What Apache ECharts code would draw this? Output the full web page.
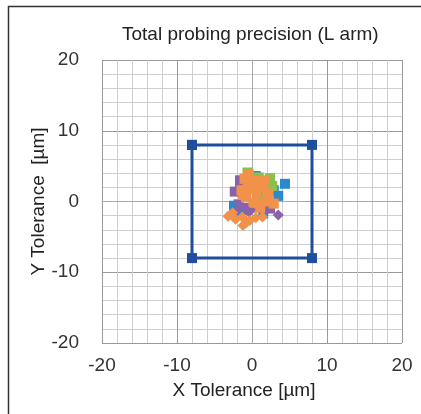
<!DOCTYPE html>
<html>
<head>
<meta charset="utf-8">
<script src="https://cdn.jsdelivr.net/npm/echarts@6/dist/echarts.min.js"></script>
<style>
  html, body { margin: 0; padding: 0; background: #fff; }
  #chart { width: 421px; height: 414px; }
</style>
</head>
<body>
<div id="chart"></div>
<script>
// tolerance box corners (um)
const boxPoints = [[-8, 8], [8, 8], [8, -8], [-8, -8], [-8, 8]];

// measured probe points, grouped as drawn in the picture
const blueSquares = [[4.4, 2.5], [3.5, 0.8], [2.9, 1.6], [1.5, -1.7], [-2.4, -0.6], [0.5, 3.6], [-1.0, -1.2], [0.8, 0.6], [-1.6, 2.4]];
const greenSquares = [[-0.6, 4.1], [2.4, 3.3], [2.7, 2.2], [0.9, 3.4], [1.8, 2.8], [-0.2, -0.9], [1.2, 0.4]];
const purpleSquares = [[-2.3, 1.4], [-1.6, 3.0], [-0.6, -0.9], [0.5, -0.7], [-1.8, -0.4], [2.4, -1.0], [0.0, 2.7]];
const orangeSquares = [[-0.4, 3.8], [-1.4, 1.6], [-0.6, 2.6], [0.6, 1.2], [1.5, 1.9], [0.2, -0.2], [2.0, 0.0], [1.1, -0.9],
  [2.9, -0.3], [-0.8, 0.6], [1.6, 3.0], [0.5, 2.2], [-1.2, 1.0], [2.2, 1.1], [0.3, 3.0], [-1.0, 3.2], [1.0, -0.3], [-0.3, 1.8]];
const blueDiamonds = [[-2.2, -1.0], [-1.5, -1.7]];
const purpleDiamonds = [[3.5, -1.9], [-2.0, -1.2], [-0.4, -1.5]];
const orangeDiamonds = [[-3.2, -2.1], [-2.2, -2.5], [-1.3, -2.2], [-1.2, -3.4], [-0.3, -2.7], [0.5, -2.3], [1.4, -2.2], [-2.6, -1.6], [-0.8, -3.0]];

const axisMin = -20, axisMax = 20, step = 2;
const font = 'Liberation Sans, Arial, sans-serif';
const tickText = v => (v % 10 === 0 ? String(v) : '');

function axis(name, gap, labelMargin, namePad) {
    return {
        type: 'value',
        min: axisMin,
        max: axisMax,
        interval: step,
        name: name,
        nameLocation: 'middle',
        nameGap: gap,
        nameMoveOverlap: false,
        nameTextStyle: { color: '#222', fontSize: 19, fontFamily: font, padding: namePad },
        axisLine: { show: true, lineStyle: { color: '#aaa', width: 1 } },
        axisTick: { show: false },
        axisLabel: { color: '#333', fontSize: 19, fontFamily: font, margin: labelMargin, formatter: tickText },
        splitLine: {
            show: true,
            lineStyle: { color: ['#999', '#cfcfcf', '#cfcfcf', '#cfcfcf', '#cfcfcf'], width: 1 }
        }
    };
}

function scatter(data, color, symbol) {
    return {
        type: 'scatter',
        data: data,
        symbol: symbol,
        symbolSize: symbol === 'diamond' ? 11 : 10,
        itemStyle: { color: color, opacity: 1 },
        z: 3
    };
}

const chart = echarts.init(document.getElementById('chart'));
chart.setOption({
    animation: false,
    title: {
        text: 'Total probing precision (L arm)',
        left: 117,
        top: 20,
        textStyle: { color: '#222', fontSize: 19, fontWeight: 'normal', fontFamily: font }
    },
    grid: { left: 102, top: 60, width: 300, height: 283, outerBoundsMode: 'none', containLabel: false },
    xAxis: axis('X Tolerance [µm]', 38, 13, [0, 16, 0, 0]),
    yAxis: axis('Y Tolerance  [µm]', 54, 23, 0),
    graphic: [{
        type: 'polyline',
        shape: { points: [[8.5, 414], [8.5, 6.5], [421, 6.5]] },
        style: { fill: null, stroke: '#333', lineWidth: 1.5 },
        z: 10
    }],
    series: [
        {
            type: 'line',
            data: boxPoints,
            symbol: 'rect',
            symbolSize: 10,
            showSymbol: true,
            lineStyle: { color: '#1f4e9e', width: 3 },
            itemStyle: { color: '#1f4e9e' },
            z: 2
        },
        scatter(blueSquares, '#2a8acb', 'rect'),
        scatter(greenSquares, '#8dbf4f', 'rect'),
        scatter(purpleSquares, '#8a62ab', 'rect'),
        scatter(orangeSquares, '#f2914a', 'rect'),
        scatter(blueDiamonds, '#2a8acb', 'diamond'),
        scatter(purpleDiamonds, '#8a62ab', 'diamond'),
        scatter(orangeDiamonds, '#f2914a', 'diamond')
    ]
});
</script>
</body>
</html>
